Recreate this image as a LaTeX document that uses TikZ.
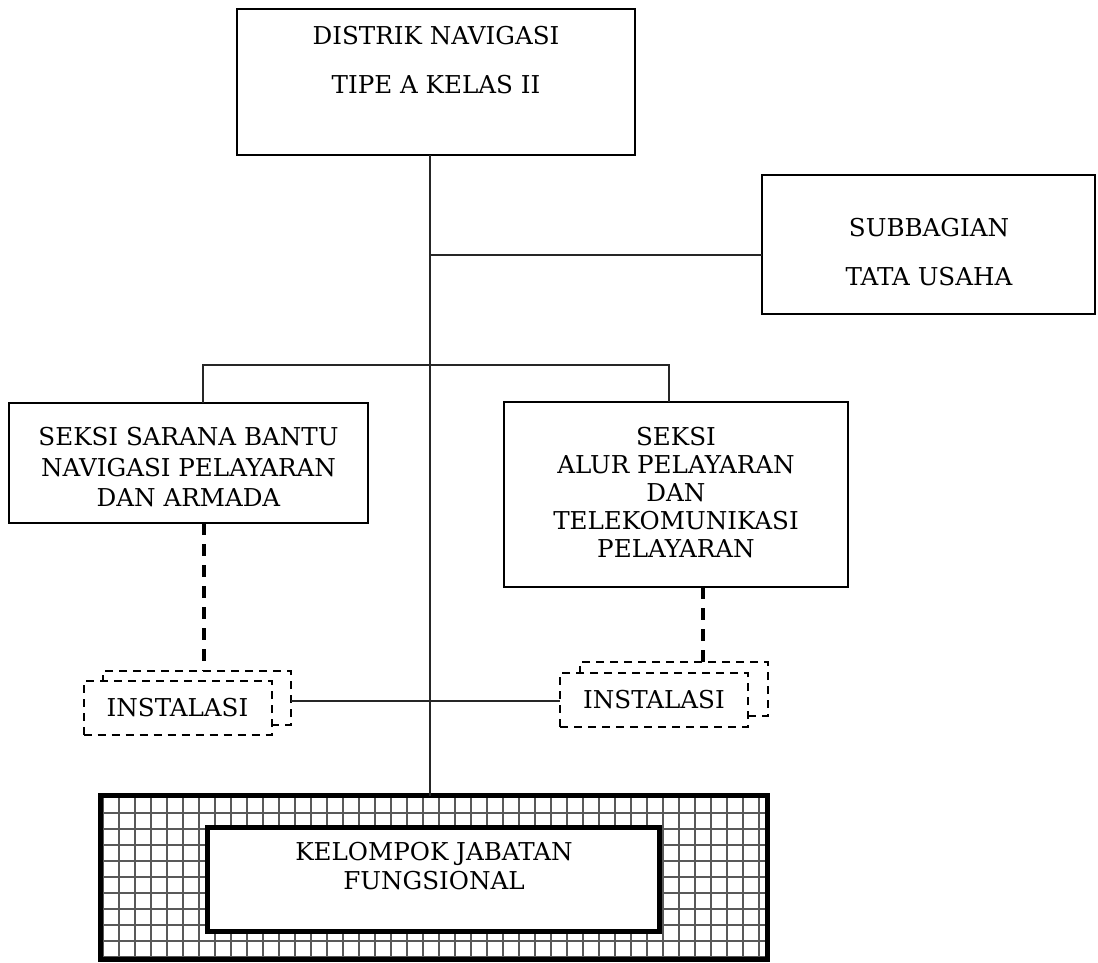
\documentclass[tikz,border=0pt]{standalone}
\usepackage{fontspec}
\setmainfont{DejaVu Serif}
\begin{document}
\begin{tikzpicture}[x=1pt,y=-1pt,
  box/.style={draw, line width=2pt, inner sep=0pt, outer sep=0pt, fill=white},
  txt/.style={align=center, inner sep=0pt, font=\fontsize{24.6}{#1}\selectfont},
  conn/.style={line width=1.2pt, black!85},
  thickdash/.style={line width=3.2pt, dash pattern=on 12pt off 9pt},
  dbox/.style={draw, line width=2pt, dash pattern=on 8pt off 6pt, fill=white, inner sep=0pt, outer sep=0pt, minimum width=188pt, minimum height=54pt, font=\fontsize{24.6}{30}\selectfont},
  gridline/.style={line width=1.3pt, black!65},
  heavy/.style={draw, line width=5pt, inner sep=0pt, outer sep=0pt}
]
\useasboundingbox (0,0) rectangle (1098,962);
\fill[white] (0,0) rectangle (1098,962);

% boxes
\node[box, minimum width=398pt, minimum height=146pt] (dn) at (436,82) {};
\node[txt=49pt] (dnt) at (436,60) {DISTRIK NAVIGASI\\TIPE A KELAS II};
\node[box, minimum width=333pt, minimum height=139pt] (sub) at (928.5,244.5) {};
\node[txt=49pt] (subt) at (929,252) {SUBBAGIAN\\TATA USAHA};
\node[box, minimum width=359pt, minimum height=120pt] (ssb) at (188.5,463) {};
\node[txt=30.5pt] (ssbt) at (188.5,467.5) {SEKSI SARANA BANTU\\NAVIGASI PELAYARAN\\DAN ARMADA};
\node[box, minimum width=344pt, minimum height=185pt] (sap) at (676,494.5) {};
\node[txt=28pt] (sapt) at (676,493) {SEKSI\\ALUR PELAYARAN\\DAN\\TELEKOMUNIKASI\\PELAYARAN};

% INSTALASI boxes (back, then front)
\node[dbox] (ib1) at (197,698) {};
\node[dbox] (if1) at (177.5,708) {INSTALASI};
\node[dbox] (ib2) at (674,689) {};
\node[dbox] (if2) at (654,700) {INSTALASI};

% bottom grid box
\node[inner sep=0pt, outer sep=0pt, minimum width=667pt, minimum height=164pt] (kjo) at (434,877.5) {};
\begin{scope}
  \clip (kjo.south west) rectangle (kjo.north east);
  \foreach \i in {0,...,42} \draw[gridline] (103+16*\i,790) -- (103+16*\i,965);
  \foreach \j in {0,...,11} \draw[gridline] (95,797+16*\j) -- (775,797+16*\j);
\end{scope}
\node[heavy, minimum width=667pt, minimum height=164pt] (kjb) at (434,877.5) {};
\node[heavy, fill=white, minimum width=452pt, minimum height=104pt] (kji) at (433,879) {};
\node[txt=29pt] (kjt) at (434,866) {KELOMPOK JABATAN\\FUNGSIONAL};

% connectors
\coordinate (tx) at (430,255);
\coordinate (bl) at (203,365);
\coordinate (br) at (669,365);
\coordinate (dl) at (204,600);
\coordinate (dr) at (703,600);
\coordinate (hy) at (430,701);
\draw[conn] (dn.south -| tx) -- (kjb.north -| tx);
\draw[conn] (tx) -- (sub.west |- tx);
\draw[conn] (ssb.north -| bl) -- (bl) -- (br) -- (sap.north -| br);
\draw[thickdash] (ssb.south -| dl) -- (ib1.north -| dl);
\draw[thickdash] (sap.south -| dr) -- (ib2.north -| dr);
\draw[conn] (ib1.east |- hy) -- (if2.west |- hy);
\end{tikzpicture}
\end{document}
